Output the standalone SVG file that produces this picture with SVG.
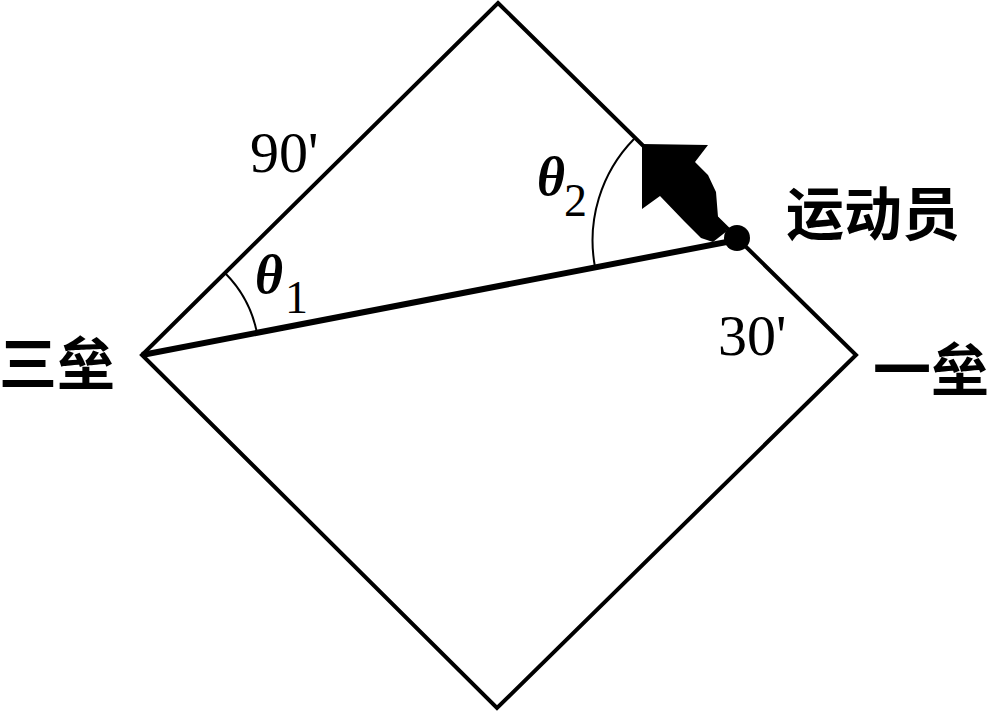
<svg xmlns="http://www.w3.org/2000/svg" width="991" height="713" viewBox="0 0 991 713">
<style>
.edge{fill:none;stroke:#000;stroke-width:4;stroke-linejoin:miter}
.arc{fill:none;stroke:#000;stroke-width:2}
.num{font-family:"Liberation Serif",serif;font-size:58px;fill:#000}
.th{font-family:"Liberation Serif",serif;font-style:italic;font-weight:700;font-size:54px;fill:#000}
.sub{font-family:"Liberation Serif",serif;font-size:46px;fill:#000}
.cjk{font-family:"Noto Sans CJK SC",sans-serif;font-weight:700;font-size:58px;fill:#000}
</style>
<rect width="991" height="713" fill="#fff"/>
<g id="field">
<polygon class="edge" points="498,3 856,355 497,708 142,355"/>
</g>
<g id="connectors">
<line x1="142" y1="355" x2="737" y2="240" stroke="#000" stroke-width="6"/>
<path class="arc" d="M225,273 A117,117 0 0 1 257,333"/>
<path class="arc" d="M634,139 A145,145 0 0 0 595,267"/>
<polygon id="arrow" fill="#000" points="642,144 708,145 695,162 708,175 716,192 718,217 727,231 713,242 701,238 684,221 660,196 642,209"/>
</g>
<g id="player">
<circle cx="737" cy="238" r="13" fill="#000"/>
<text class="cjk" x="786" y="235">运动员</text>
</g>
<g id="third"><text class="cjk" x="-1" y="385">三垒</text></g>
<g id="first"><text class="cjk" x="873" y="391">一垒</text></g>
<g id="labels">
<text class="num" x="250" y="172">90'</text>
<text class="num" x="718" y="355">30'</text>
<text class="th" x="255" y="293">θ</text><text class="sub" x="285" y="313">1</text>
<text class="th" x="537" y="195">θ</text><text class="sub" x="564" y="216">2</text>
</g>
</svg>
